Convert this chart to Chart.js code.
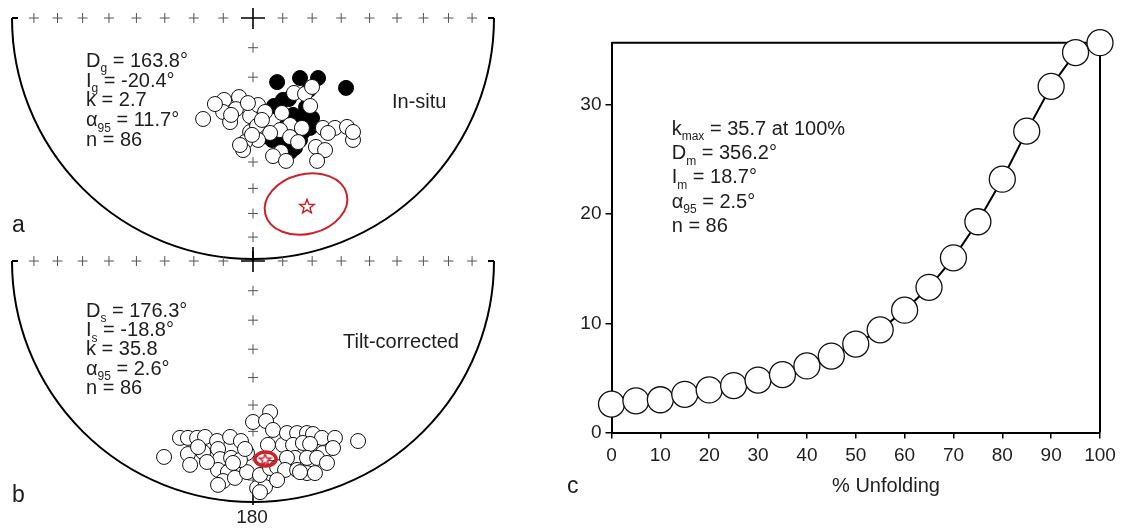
<!DOCTYPE html>
<html>
<head>
<meta charset="utf-8">
<script src="https://cdn.jsdelivr.net/npm/chart.js@4.4.1/dist/chart.umd.min.js"></script>
<style>
  html, body { margin: 0; padding: 0; background: #fff; width: 1126px; height: 529px; overflow: hidden; }
  canvas { position: absolute; }
</style>
</head>
<body>
<canvas id="netA" width="520" height="275" style="left:0px;top:0px"></canvas>
<canvas id="netB" width="520" height="286" style="left:0px;top:243px"></canvas>
<canvas id="fold" width="586" height="529" style="left:540px;top:0px"></canvas>
<script>
// ---- data -------------------------------------------------------------
// equal-area net coordinates, in % of the net radius (x = east, y = north)
var netTickInc = [80, 70, 60, 50, 40, 30, 20, 10];

var inSituOpen = [
  [-20.7,-41.9],[-12.0,-34.0],[-5.8,-32.8],[-12.4,-39.0],[-7.1,-37.8],[-9.5,-43.2],
  [-1.2,-40.7],[2.1,-36.1],[5.0,-39.0],[12.0,-39.4],[17.0,-31.1],[21.6,-31.5],
  [24.5,-28.6],[23.7,-36.5],[15.4,-44.4],[11.2,-46.5],[7.1,-47.7],[2.1,-50.6],
  [-1.2,-47.3],[1.7,-44.8],[-3.3,-51.5],[-4.1,-54.8],[15.4,-49.4],[20.3,-45.6],
  [18.7,-51.5],[26.1,-53.5],[29.0,-45.6],[34.0,-45.6],[39.0,-45.2],[41.5,-50.6],
  [29.9,-54.8],[26.6,-59.3],[11.6,-55.6],[8.3,-57.3],[13.7,-59.3],[31.1,-47.7],
  [41.5,-47.3],[-5.4,-52.7],[-0.4,-48.5],[-2.1,-35.3],[3.7,-42.3],[-15.8,-35.7],
  [-9.1,-40.2]
];
var inSituFilled = [
  [10.0,-26.6],[19.5,-24.9],[27.0,-24.9],[38.6,-29.0],[23.2,-29.9],[14.9,-33.6],
  [8.7,-36.5],[20.3,-41.1],[16.6,-40.2],[23.7,-45.6],[20.7,-47.3],[19.5,-50.6],
  [7.9,-50.6],[11.6,-51.9],[15.4,-55.6],[17.4,-53.9],[24.5,-41.5],[12.4,-34.0],
  [22.0,-37.0],[13.7,-45.0]
];
var tiltOpen = [
  [7.1,-62.7],[0.0,-66.8],[5.4,-66.4],[8.3,-70.1],[-36.9,-81.3],[-30.3,-73.4],
  [-27.0,-73.4],[-23.2,-73.4],[-19.9,-73.0],[-14.9,-74.7],[-9.5,-73.0],[-5.0,-74.7],
  [-27.0,-80.1],[-26.1,-84.6],[-20.7,-79.3],[-14.5,-78.0],[-13.7,-82.2],[-9.1,-81.7],
  [-14.5,-86.7],[-10.4,-87.6],[-12.4,-91.3],[-7.5,-90.0],[-2.5,-87.6],[1.7,-94.2],
  [5.0,-93.8],[2.9,-88.8],[7.1,-85.9],[10.0,-85.5],[12.4,-76.3],[14.1,-71.4],
  [18.3,-71.4],[22.4,-71.4],[24.9,-71.8],[28.6,-73.4],[34.0,-73.4],[43.6,-74.7],
  [16.6,-76.3],[20.7,-75.5],[23.7,-75.9],[29.0,-79.7],[33.2,-77.6],[17.4,-81.7],
  [22.4,-81.7],[26.6,-81.7],[30.7,-83.8],[14.1,-81.7],[13.3,-86.7],[18.3,-86.7],
  [22.4,-88.0],[10.0,-90.9],[-2.5,-79.7],[-5.4,-82.6],[-19.1,-83.4],[-8.3,-83.8],
  [19.5,-87.6],[25.7,-88.0],[2.9,-95.9],[-14.5,-92.9],[6.2,-76.3],[-3.3,-78.0],
  [-22.8,-77.2]
];
var meanInSitu = [[22.4, -78.0]];
var meanTilt = [[5.0, -82.2]];
var coneInSitu = { x: 22.0, y: -77.2, a: 17.4, b: 12.4, rot: -14 };
var coneTilt = { x: 5.2, y: -82.2, a: 4.4, b: 2.9, rot: 0 };

var unfolding = [0, 5, 10, 15, 20, 25, 30, 35, 40, 45, 50, 55, 60, 65, 70, 75, 80, 85, 90, 95, 100];
var kappa = [2.6, 2.9, 3.0, 3.5, 3.9, 4.3, 4.8, 5.3, 6.1, 7.0, 8.1, 9.4, 11.2, 13.3, 16.0, 19.3, 23.2, 27.6, 31.7, 34.8, 35.7];
var xTicks = [0, 10, 20, 30, 40, 50, 60, 70, 80, 90, 100];
var yTicks = [0, 10, 20, 30];

var statsInSitu = ['D_{g} = 163.8°', 'I_{g} = -20.4°', 'k = 2.7', 'α_{95} = 11.7°', 'n = 86'];
var statsTilt = ['D_{s} = 176.3°', 'I_{s} = -18.8°', 'k = 35.8', 'α_{95} = 2.6°', 'n = 86'];
var statsFold = ['k_{max} = 35.7 at 100%', 'D_{m} = 356.2°', 'I_{m} = 18.7°', 'α_{95} = 2.5°', 'n = 86'];

// ---- helpers ----------------------------------------------------------
var FONT = '"Liberation Sans", Arial, sans-serif';
var INK = '#1e1e1e';
var RED = '#cc2229';

function pts(list) { return list.map(function (p) { return { x: p[0], y: p[1] }; }); }

function netTicks() {
  var out = [];
  netTickInc.forEach(function (inc) {
    var r = 100 * Math.SQRT2 * Math.sin((90 - inc) / 2 * Math.PI / 180);
    out.push({ x: -r, y: 0 }, { x: r, y: 0 }, { x: 0, y: -r });
  });
  return out;
}

function starImage(size) {
  var c = document.createElement('canvas');
  c.width = c.height = size;
  var g = c.getContext('2d');
  var r = size / 2 - 1.5, ri = r * 0.42, cx = size / 2, cy = size / 2 + 0.8;
  g.beginPath();
  for (var i = 0; i < 10; i++) {
    var a = -Math.PI / 2 + i * Math.PI / 5, rr = (i % 2) ? ri : r;
    g.lineTo(cx + rr * Math.cos(a), cy + rr * Math.sin(a));
  }
  g.closePath();
  g.fillStyle = '#fff'; g.fill();
  g.strokeStyle = RED; g.lineWidth = 1.4; g.stroke();
  return c;
}

// text with _{sub} parts
function drawRich(ctx, x, y, str, size, align) {
  var parts = str.split(/_\{([^}]*)\}/);
  var w = 0;
  parts.forEach(function (t, i) {
    ctx.font = (i % 2 ? size * 0.6 : size) + 'px ' + FONT;
    w += ctx.measureText(t).width;
  });
  var cx = align === 'center' ? x - w / 2 : x;
  parts.forEach(function (t, i) {
    var sub = i % 2 === 1;
    ctx.font = (sub ? size * 0.6 : size) + 'px ' + FONT;
    ctx.fillText(t, cx, sub ? y + size * 0.27 : y);
    cx += ctx.measureText(t).width;
  });
}

var notesPlugin = {
  id: 'notes',
  afterDraw: function (chart, args, opts) {
    var ctx = chart.ctx;
    ctx.save();
    ctx.fillStyle = INK;
    ctx.textBaseline = 'alphabetic';
    ctx.textAlign = 'left';
    (opts.items || []).forEach(function (it) {
      it.lines.forEach(function (line, i) {
        drawRich(ctx, it.x, it.y + i * (it.lh || 0), line, it.size, it.align);
      });
    });
    ctx.restore();
  }
};

var netPlugin = {
  id: 'net',
  beforeDatasetsDraw: function (chart) {
    var ctx = chart.ctx, xs = chart.scales.x, ys = chart.scales.y;
    var cx = xs.getPixelForValue(0), cy = ys.getPixelForValue(0);
    var R = xs.getPixelForValue(100) - cx;
    ctx.save();
    ctx.strokeStyle = '#000';
    ctx.lineWidth = 2;
    ctx.beginPath();
    ctx.arc(cx, cy, R, 0, Math.PI);
    ctx.stroke();
    ctx.beginPath();
    ctx.moveTo(cx - R, cy); ctx.lineTo(cx - R + 6, cy);
    ctx.moveTo(cx + R, cy); ctx.lineTo(cx + R - 6, cy);
    ctx.stroke();
    ctx.lineWidth = 1.6;
    ctx.beginPath();
    ctx.moveTo(cx - 12, cy); ctx.lineTo(cx + 12, cy);
    ctx.moveTo(cx, cy - 10); ctx.lineTo(cx, cy + 11);
    ctx.moveTo(cx, cy + R - 12); ctx.lineTo(cx, cy + R + 3);
    ctx.stroke();
    ctx.restore();
  },
  beforeDatasetDraw: function (chart, args) {
    var ds = chart.data.datasets[args.index];
    if (!ds.cone) return;
    var ctx = chart.ctx, xs = chart.scales.x, ys = chart.scales.y, c = ds.cone;
    var u = xs.getPixelForValue(1) - xs.getPixelForValue(0);
    ctx.save();
    ctx.strokeStyle = RED;
    ctx.lineWidth = ds.coneWidth;
    ctx.beginPath();
    ctx.ellipse(xs.getPixelForValue(c.x), ys.getPixelForValue(c.y), c.a * u, c.b * u, c.rot * Math.PI / 180, 0, 2 * Math.PI);
    ctx.stroke();
    ctx.restore();
  }
};

function netChart(id, open, filled, mean, cone, coneWidth, starSize, notes, padBottom) {
  var datasets = [
    { label: 'grid', data: netTicks(), pointStyle: 'cross', pointRadius: 5, borderColor: '#555', pointBorderWidth: 1, order: 5 }
  ];
  if (filled) {
    datasets.push({ label: 'lower', data: pts(filled), pointRadius: 7.5, pointBackgroundColor: '#000', pointBorderColor: '#000', pointBorderWidth: 1, order: 3 });
  }
  datasets.push({ label: 'upper', data: pts(open), pointRadius: 7.5, pointBackgroundColor: '#fff', pointBorderColor: '#111', pointBorderWidth: 1, order: 2 });
  datasets.push({ label: 'mean', data: pts(mean), pointStyle: starImage(starSize), pointRadius: starSize / 2, cone: cone, coneWidth: coneWidth, order: 0 });
  datasets.forEach(function (d) { d.clip = false; d.showLine = false; });

  return new Chart(document.getElementById(id), {
    type: 'scatter',
    data: { datasets: datasets },
    options: {
      responsive: false,
      animation: false,
      devicePixelRatio: 1,
      layout: { padding: { left: 12, right: 26, top: 18, bottom: padBottom } },
      scales: {
        x: { type: 'linear', min: -100, max: 100, display: false },
        y: { type: 'linear', min: -100, max: 0, display: false }
      },
      plugins: { legend: { display: false }, tooltip: { enabled: false }, notes: { items: notes } }
    },
    plugins: [netPlugin, notesPlugin]
  });
}

netChart('netA', inSituOpen, inSituFilled, meanInSitu, coneInSitu, 2, 18, [
  { x: 86, y: 67, lh: 19.7, size: 20, lines: statsInSitu },
  { x: 392, y: 108, size: 20, lines: ['In-situ'] },
  { x: 12, y: 232, size: 23, lines: ['a'] }
], 16);

netChart('netB', tiltOpen, null, meanTilt, coneTilt, 3.5, 15, [
  { x: 86, y: 74, lh: 19.2, size: 20, lines: statsTilt },
  { x: 343, y: 105, size: 20, lines: ['Tilt-corrected'] },
  { x: 12, y: 259, size: 23, lines: ['b'] },
  { x: 252, y: 280, size: 19, align: 'center', lines: ['180'] }
], 27);

// ---- fold test ----------------------------------------------------------
var boxPlugin = {
  id: 'box',
  beforeDatasetsDraw: function (chart) {
    var a = chart.chartArea, ctx = chart.ctx;
    ctx.save();
    ctx.strokeStyle = '#000';
    ctx.lineWidth = 2;
    ctx.beginPath();
    ctx.moveTo(a.left, a.top); ctx.lineTo(a.right, a.top); ctx.lineTo(a.right, a.bottom);
    ctx.stroke();
    ctx.restore();
  }
};

new Chart(document.getElementById('fold'), {
  type: 'scatter',
  data: {
    datasets: [{
      data: unfolding.map(function (u, i) { return { x: u, y: kappa[i] }; }),
      showLine: true,
      borderColor: '#000',
      borderWidth: 2,
      pointRadius: 13,
      pointBackgroundColor: '#fff',
      pointBorderColor: '#111',
      pointBorderWidth: 1.3,
      clip: false
    }]
  },
  options: {
    responsive: false,
    animation: false,
    devicePixelRatio: 1,
    layout: { padding: { left: 0, right: 26, top: 42.7, bottom: 0 } },
    scales: {
      x: {
        type: 'linear', min: 0, max: 100,
        afterBuildTicks: function (s) { s.ticks = xTicks.map(function (v) { return { value: v }; }); },
        afterFit: function (s) { s.height = 96.5; },
        grid: { drawOnChartArea: false, drawTicks: true, tickLength: 6, color: '#000', lineWidth: 1.5 },
        border: { color: '#000', width: 2 },
        ticks: { font: { family: FONT, size: 19 }, color: INK, padding: 6, maxRotation: 0, autoSkip: false }
      },
      y: {
        type: 'linear', min: 0, max: 35.7,
        afterBuildTicks: function (s) { s.ticks = yTicks.map(function (v) { return { value: v }; }); },
        afterFit: function (s) { s.width = 71.5; },
        grid: { drawOnChartArea: false, drawTicks: true, tickLength: 6, color: '#000', lineWidth: 1.5 },
        border: { color: '#000', width: 2 },
        ticks: { font: { family: FONT, size: 19 }, color: INK, padding: 4 }
      }
    },
    plugins: {
      legend: { display: false },
      tooltip: { enabled: false },
      notes: {
        items: [
          { x: 131.7, y: 135, lh: 24.2, size: 20, lines: statsFold },
          { x: 346, y: 492, size: 20, align: 'center', lines: ['% Unfolding'] },
          { x: 27, y: 493, size: 23, lines: ['c'] }
        ]
      }
    }
  },
  plugins: [boxPlugin, notesPlugin]
});
</script>
</body>
</html>
